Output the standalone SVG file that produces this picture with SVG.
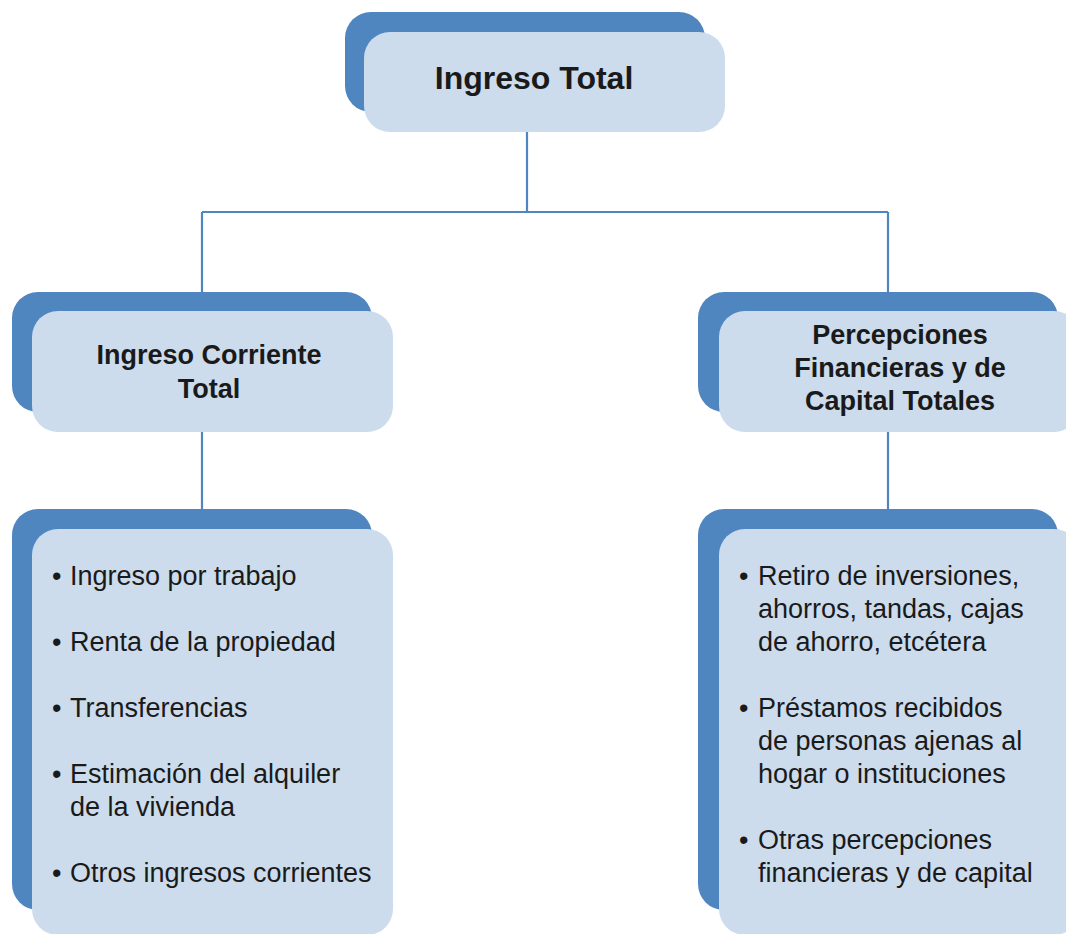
<svg xmlns="http://www.w3.org/2000/svg" width="1066" height="934" viewBox="0 0 1066 934">
<style>
.back{fill:#4f86c0}
.front{fill:#ccdcec}
.title{font-family:"Liberation Sans",Arial,sans-serif;font-weight:bold;fill:#1a1a1a;text-anchor:middle}
.item{font-family:"Liberation Sans",Arial,sans-serif;font-size:27px;fill:#1a1a1a}
.conn{stroke:#4f86c0;stroke-width:2.2;fill:none}
</style>
<rect width="1066" height="934" fill="#ffffff"/>
<g id="connectors">
<path class="conn" d="M527 132 V212 M202 212 H888 M202 212 V292 M888 212 V292 M202 432 V509 M888 432 V509"/>
</g>
<g id="node-total">
<rect class="back" x="345" y="12" width="360" height="100" rx="26"/>
<rect class="front" x="364" y="32" width="361" height="100" rx="26"/>
<text class="title" x="534" y="89" font-size="32">Ingreso Total</text>
</g>
<g id="node-corriente">
<rect class="back" x="12" y="292" width="360" height="120" rx="26"/>
<rect class="front" x="32" y="311" width="361" height="121" rx="26"/>
<text class="title" x="209" y="364" font-size="27">Ingreso Corriente</text>
<text class="title" x="209" y="398" font-size="27">Total</text>
</g>
<g id="node-percepciones">
<rect class="back" x="698" y="292" width="360" height="120" rx="26"/>
<rect class="front" x="719" y="311" width="361" height="121" rx="26"/>
<text class="title" x="900" y="344" font-size="27">Percepciones</text>
<text class="title" x="900" y="377" font-size="27">Financieras y de</text>
<text class="title" x="900" y="410" font-size="27">Capital Totales</text>
</g>
<g id="list-corriente">
<rect class="back" x="12" y="509" width="360" height="401" rx="26"/>
<rect class="front" x="32" y="529" width="361" height="406" rx="26"/>
<text class="item" x="52" y="585">•</text><text class="item" x="70" y="585">Ingreso por trabajo</text>
<text class="item" x="52" y="651">•</text><text class="item" x="70" y="651">Renta de la propiedad</text>
<text class="item" x="52" y="717">•</text><text class="item" x="70" y="717">Transferencias</text>
<text class="item" x="52" y="783">•</text><text class="item" x="70" y="783">Estimación del alquiler</text>
<text class="item" x="70" y="816">de la vivienda</text>
<text class="item" x="52" y="882">•</text><text class="item" x="70" y="882">Otros ingresos corrientes</text>
</g>
<g id="list-percepciones">
<rect class="back" x="698" y="509" width="360" height="401" rx="26"/>
<rect class="front" x="719" y="529" width="361" height="406" rx="26"/>
<text class="item" x="739" y="585">•</text><text class="item" x="758" y="585">Retiro de inversiones,</text>
<text class="item" x="758" y="618">ahorros, tandas, cajas</text>
<text class="item" x="758" y="651">de ahorro, etcétera</text>
<text class="item" x="739" y="717">•</text><text class="item" x="758" y="717">Préstamos recibidos</text>
<text class="item" x="758" y="750">de personas ajenas al</text>
<text class="item" x="758" y="783">hogar o instituciones</text>
<text class="item" x="739" y="849">•</text><text class="item" x="758" y="849">Otras percepciones</text>
<text class="item" x="758" y="882">financieras y de capital</text>
</g>
</svg>
